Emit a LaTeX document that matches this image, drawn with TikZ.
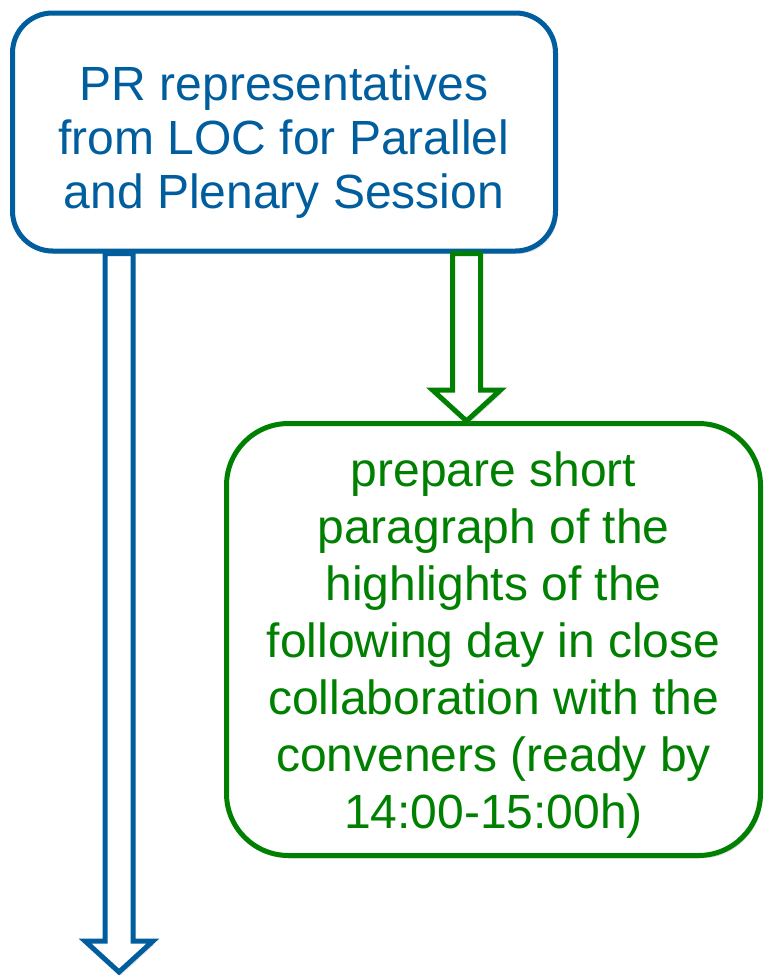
\documentclass[tikz,border=0pt]{standalone}
\usepackage{fontspec}
\setmainfont{Liberation Sans}
\usetikzlibrary{calc,shadows}

\definecolor{prblue}{RGB}{0,94,158}
\definecolor{taskgreen}{RGB}{0,128,0}

\tikzset{
  softshadow/.style={drop shadow={opacity=0.25, shadow xshift=2pt, shadow yshift=-3pt}},
  roundbox/.style={draw=#1, text=#1, line width=5pt, fill=white, align=center, softshadow},
  blockarrow/.style={draw=#1, line width=5pt, fill=white, line join=miter, softshadow}
}

% hollow arrow pointing down: colour, start, tip
\newcommand{\blockarrow}[3]{%
  \draw[blockarrow=#1] let \p1=(#2), \p2=(#3) in
    (\x1-14pt,\y1) -- (\x1-14pt,\y2+31pt) -- (\x1-34pt,\y2+31pt) -- (\x1,\y2)
    -- (\x1+34pt,\y2+31pt) -- (\x1+14pt,\y2+31pt) -- (\x1+14pt,\y1) -- cycle;}

\begin{document}
\begin{tikzpicture}[x=1pt,y=1pt]
	\useasboundingbox (0,0) rectangle (767,-977);

	\node[roundbox=prblue, rounded corners=40pt, minimum width=543pt, minimum height=238pt,
		text height=162pt, font=\fontsize{48}{54}\selectfont] (pr) at (284,-132)
		{PR representatives\\from LOC for Parallel\\and Plenary Session};
	\node[roundbox=taskgreen, rounded corners=62pt, minimum width=534pt, minimum height=432pt,
		text height=387pt, font=\fontsize{48}{57}\selectfont] (task) at (493.5,-639.5)
		{prepare short\\paragraph of the\\highlights of the\\following day in close\\collaboration with the\\conveners (ready by\\14:00-15:00h)};

	\coordinate (out) at (119,-972);
	\coordinate (gtip) at ($(task.north)+(-27,0)$);

	\blockarrow{prblue}{pr.south -| out}{out}
	\blockarrow{taskgreen}{pr.south -| gtip}{gtip}
\end{tikzpicture}
\end{document}
